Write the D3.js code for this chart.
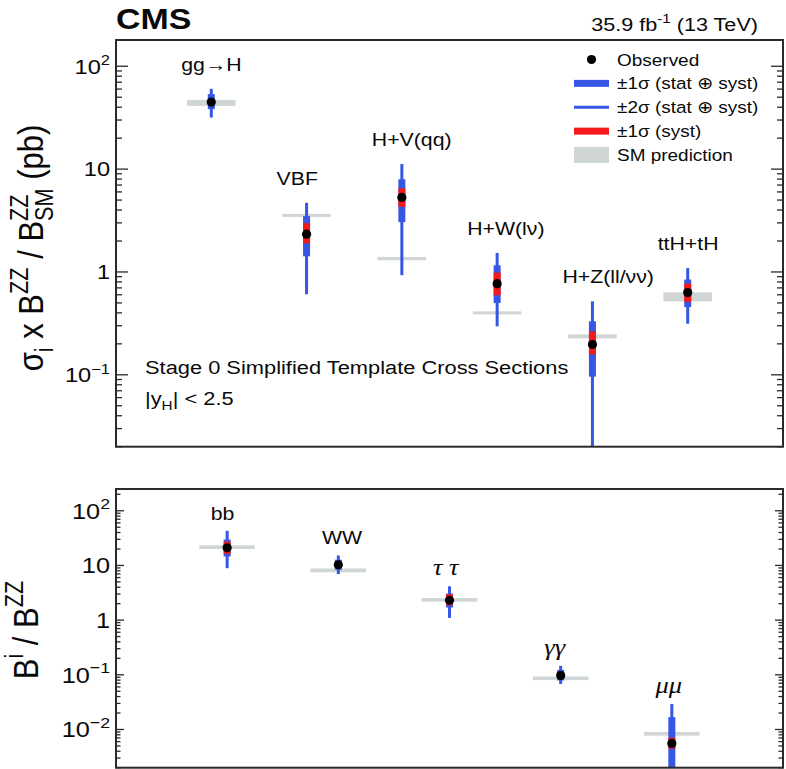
<!DOCTYPE html>
<html><head><meta charset="utf-8">
<script src="https://cdn.jsdelivr.net/npm/d3@7"></script>
<style>
body{margin:0;background:#fff}
text{font-family:"Liberation Sans",Arial,Helvetica,sans-serif;fill:#0a0a0a}
</style>
</head><body>
<svg id="c" width="786" height="769"></svg>
<script>
// ---------------- DATA ----------------
const procNames   = ["gg→H","VBF","H+V(qq)","H+W(lν)","H+Z(ll/νν)","ttH+tH"];
const procObs     = [44.8, 2.33, 5.31, 0.77, 0.197, 0.63];
const procLo1     = [38.3, 1.42, 3.05, 0.499, 0.096, 0.456];
const procHi1     = [53.6, 3.49, 7.96, 1.16, 0.331, 0.843];
const procLo2     = [31.7, 0.607, 0.93, 0.296, 0.005, 0.314];
const procHi2     = [60.4, 4.70, 11.2, 1.53, 0.518, 1.09];
const procSystLo  = [42.0, 1.90, 4.30, 0.593, 0.158, 0.51];
const procSystHi  = [47.5, 2.98, 6.50, 0.986, 0.264, 0.77];
const procSM      = [44.1, 3.55, 1.35, 0.40, 0.236, 0.575];
const procSMLo    = [41.2, 3.43, 1.30, 0.387, 0.226, 0.518];
const procSMHi    = [47.1, 3.67, 1.40, 0.414, 0.247, 0.634];

const decayNames  = ["bb","WW","τ τ","γγ","μμ"];
const decayObs    = [21.0, 10.3, 2.31, 0.097, 0.00556];
const decayLo1    = [14.6, 8.35, 1.70, 0.079, 0.0005];
const decayHi1    = [29.7, 12.7, 3.06, 0.123, 0.0168];
const decayLo2    = [8.9, 6.95, 1.10, 0.068, 0.0005];
const decayHi2    = [43.0, 15.2, 4.15, 0.146, 0.0293];
const decaySystLo = [16.3, 9.5, 1.87, 0.091, 0.00446];
const decaySystHi = [27.3, 11.2, 2.97, 0.104, 0.00706];
const decaySM     = [21.5, 8.1, 2.34, 0.086, 0.0083];
const decaySMLo   = [20.0, 7.5, 2.17, 0.080, 0.0077];
const decaySMHi   = [23.3, 8.8, 2.53, 0.093, 0.0090];

const topDomain = [0.02, 180];
const botDomain = [0.002, 250];
const topTicks = [0.1, 1, 10, 100];
const botTicks = [0.01, 0.1, 1, 10, 100];
const legendLabels = ["Observed","±1σ (stat ⊕ syst)","±2σ (stat ⊕ syst)","±1σ (syst)","SM prediction"];

// ---------------- STYLE ----------------
const SX = 1.15;
const BLUE = "#3656e4", RED = "#f51a1a", GREY = "#d0d5d5", FRAME = "#2a2a2a";
const L = 116, R = 783;

const svg = d3.select("#c");

function stext(parent, x, y, size, opts = {}) {
  const g = parent.append("g")
    .attr("transform", `translate(${x},${y}) scale(${SX},1)` + (opts.rotate ? " rotate(-90)" : ""));
  const t = g.append("text")
    .attr("text-anchor", opts.anchor || "start")
    .style("font-size", size + "px");
  if (opts.weight) t.style("font-weight", opts.weight);
  if (opts.family) t.style("font-family", opts.family);
  if (opts.italic) t.style("font-style", "italic");
  return t;
}
function rich(t, parts, b) {
  let cur = 0;
  const supS = -0.42 * b, subS = 0.28 * b, ss = 0.7 * b;
  parts.forEach(p => {
    if (typeof p === "string") {
      t.append("tspan").attr("dy", -cur).style("font-size", b + "px").text(p); cur = 0;
    } else if (p.mode === "sup") {
      t.append("tspan").attr("dy", supS - cur).style("font-size", ss + "px").text(p.t); cur = supS;
    } else if (p.mode === "sub") {
      t.append("tspan").attr("dy", subS - cur).style("font-size", ss + "px").text(p.t); cur = subS;
    } else if (p.mode === "stack") {
      const a = t.append("tspan").attr("dy", supS - cur).style("font-size", ss + "px").text(p.t);
      const len = a.node().getComputedTextLength();
      t.append("tspan").attr("dx", -len).attr("dy", subS - supS).style("font-size", ss + "px").text(p.t2);
      cur = subS;
    }
  });
  return t;
}
function powLabel(v) {
  const e = Math.round(Math.log10(v));
  if (e === 0) return ["1"];
  if (e === 1) return ["10"];
  return ["10", {t: (e < 0 ? "−" : "") + Math.abs(e), mode: "sup"}];
}

function drawPanel(cfg) {
  const n = cfg.names.length;
  const x = d3.scalePoint().domain(d3.range(n)).range([L, R]).padding(1);
  const step = x.step();
  const y = d3.scaleLog().domain(cfg.domain).range([cfg.bottom, cfg.top]);
  const g = svg.append("g");
  const clipId = "clip" + cfg.id;
  g.append("clipPath").attr("id", clipId).append("rect")
    .attr("x", L).attr("y", cfg.top).attr("width", R - L).attr("height", cfg.bottom - cfg.top);
  const plot = g.append("g").attr("clip-path", `url(#${clipId})`);
  const idx = d3.range(n);
  plot.selectAll(".sm").data(idx).join("rect")
    .attr("x", i => x(i) - cfg.smHalf * step).attr("width", 2 * cfg.smHalf * step)
    .attr("y", i => y(cfg.smHi[i])).attr("height", i => Math.max(3, y(cfg.smLo[i]) - y(cfg.smHi[i])))
    .attr("fill", GREY);
  plot.selectAll(".s2").data(idx).join("rect")
    .attr("x", i => x(i) - 1.5).attr("width", 3)
    .attr("y", i => y(cfg.hi2[i])).attr("height", i => y(cfg.lo2[i]) - y(cfg.hi2[i]))
    .attr("fill", BLUE);
  plot.selectAll(".s1").data(idx).join("rect")
    .attr("x", i => x(i) - 3.5).attr("width", 7)
    .attr("y", i => y(cfg.hi1[i])).attr("height", i => y(cfg.lo1[i]) - y(cfg.hi1[i]))
    .attr("fill", BLUE);
  plot.selectAll(".sy").data(idx).join("rect")
    .attr("x", i => x(i) - 3.5).attr("width", 7)
    .attr("y", i => y(cfg.sHi[i])).attr("height", i => y(cfg.sLo[i]) - y(cfg.sHi[i]))
    .attr("fill", RED);
  plot.selectAll(".ob").data(idx).join("circle")
    .attr("cx", i => x(i)).attr("cy", i => y(cfg.obs[i])).attr("r", 4.6).attr("fill", "#000");
  idx.forEach(i => {
    const greek = cfg.greek && cfg.greek[i];
    const t = stext(g, x(i) - cfg.labOff * step, y(cfg.hi2[i]) - cfg.labGap, greek ? cfg.greekSize : cfg.labSize,
      greek ? {family: '"Liberation Serif","DejaVu Serif",serif', italic: true} : {});
    t.text(cfg.names[i]);
  });
  g.append("rect").attr("x", L).attr("y", cfg.top).attr("width", R - L).attr("height", cfg.bottom - cfg.top)
    .attr("fill", "none").attr("stroke", FRAME).attr("stroke-width", 2);
  const [d0, d1] = cfg.domain;
  const ticks = [];
  for (let e = Math.floor(Math.log10(d0)); e <= Math.ceil(Math.log10(d1)); e++) {
    for (let k = 1; k <= 9; k++) {
      const v = k * Math.pow(10, e);
      if (v >= d0 * 0.999 && v <= d1) ticks.push({v, major: k === 1});
    }
  }
  ticks.forEach(tk => {
    const yy = y(tk.v);
    const len = tk.major ? cfg.majLen : cfg.minLen;
    g.append("line").attr("x1", L).attr("x2", L + len).attr("y1", yy).attr("y2", yy)
      .attr("stroke", FRAME).attr("stroke-width", 1.3);
    g.append("line").attr("x1", R).attr("x2", R - len).attr("y1", yy).attr("y2", yy)
      .attr("stroke", FRAME).attr("stroke-width", 1.3);
  });
  cfg.majorTicks.forEach(v => {
    const t = stext(g, L - 6, y(v) + 0.36 * cfg.tickSize, cfg.tickSize, {anchor: "end"});
    rich(t, powLabel(v), cfg.tickSize);
  });
  return {x, y, g};
}

const topPanel = drawPanel({
  id: "t", names: procNames, obs: procObs, lo1: procLo1, hi1: procHi1, lo2: procLo2, hi2: procHi2,
  sLo: procSystLo, sHi: procSystHi, smLo: procSMLo, smHi: procSMHi,
  domain: topDomain, top: 40, bottom: 446.7, majorTicks: topTicks,
  majLen: 12, minLen: 6, tickSize: 20.5, labSize: 18.5, labOff: 0.315, labGap: 18, smHalf: 0.255
});
const botPanel = drawPanel({
  id: "b", names: decayNames, obs: decayObs, lo1: decayLo1, hi1: decayHi1, lo2: decayLo2, hi2: decayHi2,
  sLo: decaySystLo, sHi: decaySystHi, smLo: decaySMLo, smHi: decaySMHi,
  domain: botDomain, top: 489, bottom: 767.7, majorTicks: botTicks,
  majLen: 8, minLen: 4.5, tickSize: 22, labSize: 18.5, greekSize: 23, labOff: 0.148, labGap: 11, smHalf: 0.25,
  greek: [false, false, true, true, true]
});

stext(svg, 116, 29, 29.5, {weight: "bold"}).text("CMS");
rich(stext(svg, 758, 31, 18.8, {anchor: "end"}), ["35.9 fb", {t: "-1", mode: "sup"}, " (13 TeV)"], 18.8);

stext(svg, 145, 374, 19).text("Stage 0 Simplified Template Cross Sections");
rich(stext(svg, 145, 405, 19), ["|y", {t: "H", mode: "sub"}, "| < 2.5"], 19);

rich(stext(svg, 43, 248, 31, {anchor: "middle", rotate: true}),
  ["σ", {t: "i", mode: "sub"}, " x B", {t: "ZZ", mode: "sup"}, " / B", {t: "ZZ", t2: "SM", mode: "stack"}, " (pb)"], 31);
rich(stext(svg, 38, 630, 31, {anchor: "middle", rotate: true}),
  ["B", {t: "i", mode: "sup"}, " / B", {t: "ZZ", mode: "sup"}], 31);

const lg = svg.append("g");
const rowY = d3.scalePoint().domain(d3.range(legendLabels.length)).range([59.5, 155]);
const sw0 = 574, sw1 = 609;
lg.append("circle").attr("cx", (sw0 + sw1) / 2).attr("cy", rowY(0)).attr("r", 4.6).attr("fill", "#000");
lg.append("rect").attr("x", sw0).attr("width", sw1 - sw0).attr("y", rowY(1) - 3.5).attr("height", 7).attr("fill", BLUE);
lg.append("rect").attr("x", sw0).attr("width", sw1 - sw0).attr("y", rowY(2) - 1.5).attr("height", 3).attr("fill", BLUE);
lg.append("rect").attr("x", sw0).attr("width", sw1 - sw0).attr("y", rowY(3) - 3.5).attr("height", 7).attr("fill", RED);
lg.append("rect").attr("x", sw0).attr("width", sw1 - sw0).attr("y", rowY(4) - 8).attr("height", 16).attr("fill", GREY);
legendLabels.forEach((s, i) => {
  stext(lg, 617, rowY(i) + 6, 16.5).text(s);
});
</script>
</body></html>
